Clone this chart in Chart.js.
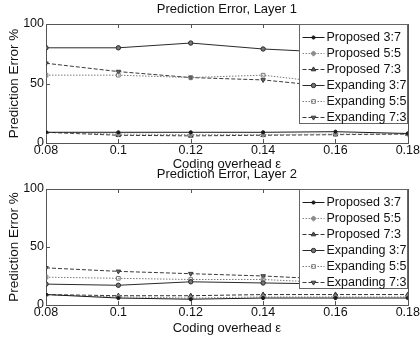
<!DOCTYPE html>
<html>
<head>
<meta charset="utf-8">
<script src="https://cdn.jsdelivr.net/npm/chart.js@4.4.1/dist/chart.umd.min.js"></script>
<style>
    body { margin: 0; background: #fff; }
    #wrap { position: relative; width: 420px; height: 337px; overflow: hidden; background: #fff; }
    canvas { position: absolute; left: 0; }
    #layer1 { top: 0; }
    #layer2 { top: 165px; }
</style>
</head>
<body>
<div id="wrap">
    <canvas id="layer1" width="420" height="172"></canvas>
    <canvas id="layer2" width="420" height="172"></canvas>
</div>
<script>
// coding overhead values on the x axis
var overhead = [0.08, 0.1, 0.12, 0.14, 0.16, 0.18];
var xTicks = [0.08, 0.1, 0.12, 0.14, 0.16, 0.18];
var yTicks = [0, 50, 100];
var seriesNames = ['Proposed 3:7', 'Proposed 5:5', 'Proposed 7:3',
    'Expanding 3:7', 'Expanding 5:5', 'Expanding 7:3'];

// Layer 1 prediction error (%)
var layer1Proposed37 = [9, 9, 9, 9, 9.5, 8];
var layer1Proposed55 = [9, 7.5, 7, 7, 7.5, 7.5];
var layer1Proposed73 = [9, 6.5, 6, 6.5, 7, 7.5];
var layer1Expanding37 = [80, 80, 84, 79, 76, 72];
var layer1Expanding55 = [57, 57, 55, 57, 50, 43];
var layer1Expanding73 = [67, 60, 55, 53, 47, 42];

// Layer 2 prediction error (%)
var layer2Proposed37 = [9, 6, 5, 6, 6, 6];
var layer2Proposed55 = [9, 7, 6, 7, 7, 7];
var layer2Proposed73 = [9, 8, 8, 9, 9, 9];
var layer2Expanding37 = [18, 17, 20, 19, 18, 16];
var layer2Expanding55 = [24, 23, 22, 22, 19, 16];
var layer2Expanding73 = [32, 29, 27, 25, 22, 18];

var FONT = "'Liberation Sans', Arial, sans-serif";

// matlab-ish grey line styles, one per series
var lineStyles = [
    { color: '#1a1a1a', dash: [], point: 'circle', radius: 1.6, fill: '#1a1a1a', rot: 0 },
    { color: '#8a8a8a', dash: [1.5, 1.5], point: 'rectRot', radius: 2.6, fill: '#8a8a8a', rot: 0 },
    { color: '#333333', dash: [4, 2], point: 'triangle', radius: 2.6, fill: '#555555', rot: 0 },
    { color: '#2a2a2a', dash: [], point: 'circle', radius: 2.2, fill: '#777777', rot: 0 },
    { color: '#7a7a7a', dash: [1.5, 1.5], point: 'rect', radius: 2.6, fill: 'rgba(255,255,255,0)', rot: 0 },
    { color: '#3a3a3a', dash: [4, 2], point: 'triangle', radius: 2.6, fill: '#666666', rot: 180 }
];

var boxPlugin = {
    id: 'boxPlugin',
    beforeDatasetsDraw: function (chart) {
        var ctx = chart.ctx, a = chart.chartArea;
        var xs = chart.scales.x, ys = chart.scales.y;
        ctx.save();
        ctx.strokeStyle = '#555';
        ctx.lineWidth = 1;
        ctx.strokeRect(Math.round(a.left) + 0.5, Math.round(a.top) + 0.5,
            Math.round(a.right - a.left), Math.round(a.bottom - a.top));
        ctx.beginPath();
        xTicks.forEach(function (v) {
            var px = Math.round(xs.getPixelForValue(v)) + 0.5;
            ctx.moveTo(px, a.bottom); ctx.lineTo(px, a.bottom - 4);
            ctx.moveTo(px, a.top); ctx.lineTo(px, a.top + 4);
        });
        yTicks.forEach(function (v) {
            var py = Math.round(ys.getPixelForValue(v)) + 0.5;
            ctx.moveTo(a.left, py); ctx.lineTo(a.left + 4, py);
            ctx.moveTo(a.right, py); ctx.lineTo(a.right - 4, py);
        });
        ctx.stroke();
        ctx.restore();
    }
};

function drawMarker(ctx, st, x, y) {
    ctx.fillStyle = st.fill;
    ctx.strokeStyle = st.color;
    ctx.lineWidth = 1;
    ctx.setLineDash([]);
    Chart.helpers.drawPoint(ctx, {
        pointStyle: st.point, rotation: st.rot, radius: st.radius, borderWidth: 1
    }, x, y);
}

var legendBox = {
    id: 'legendBox',
    afterDatasetsDraw: function (chart) {
        var ctx = chart.ctx, a = chart.chartArea;
        var w = 108, h = 99;
        var x0 = Math.round(a.right) - w - 0.5, y0 = Math.round(a.top) + 0.5;
        ctx.save();
        ctx.fillStyle = '#fff';
        ctx.fillRect(x0, y0, w, h);
        ctx.strokeStyle = '#666';
        ctx.lineWidth = 1;
        ctx.strokeRect(x0, y0, w, h);
        ctx.font = '12.5px ' + FONT;
        ctx.textBaseline = 'middle';
        chart.data.datasets.forEach(function (ds, i) {
            var st = lineStyles[i];
            var cy = Math.round(y0 + 12 + i * 16) + 0.5;
            ctx.strokeStyle = st.color;
            ctx.setLineDash(st.dash);
            ctx.lineWidth = 1;
            ctx.beginPath();
            ctx.moveTo(x0 + 3, cy);
            ctx.lineTo(x0 + 25, cy);
            ctx.stroke();
            drawMarker(ctx, st, x0 + 14, cy);
            ctx.fillStyle = '#111';
            ctx.fillText(ds.label, x0 + 27, cy);
        });
        ctx.restore();
    }
};

function makeChart(canvasId, title, series, xTitlePad, xHeight) {
    var datasets = series.map(function (values, i) {
        var st = lineStyles[i];
        return {
            label: seriesNames[i],
            data: overhead.map(function (x, k) { return { x: x, y: values[k] }; }),
            borderColor: st.color,
            borderWidth: 1,
            borderDash: st.dash,
            pointStyle: st.point,
            pointRadius: st.radius,
            pointRotation: st.rot,
            pointBackgroundColor: st.fill,
            pointBorderColor: st.color,
            pointBorderWidth: 1,
            tension: 0
        };
    });

    return new Chart(document.getElementById(canvasId), {
        type: 'line',
        data: { datasets: datasets },
        options: {
            responsive: false,
            animation: false,
            devicePixelRatio: 1,
            layout: { padding: { left: 0, right: 11, top: 0, bottom: 0 } },
            plugins: {
                legend: { display: false },
                tooltip: { enabled: false },
                title: {
                    display: true,
                    fullSize: false,
                    text: title,
                    color: '#111',
                    font: { family: FONT, size: 13, weight: 'normal', lineHeight: 1.2 },
                    padding: { top: 2, bottom: 6.4 }
                }
            },
            scales: {
                x: {
                    type: 'linear',
                    min: 0.08,
                    max: 0.18,
                    afterBuildTicks: function (s) {
                        s.ticks = xTicks.map(function (v) { return { value: v }; });
                    },
                    afterFit: function (s) { s.height = xHeight; },
                    grid: { display: false, drawTicks: false },
                    border: { display: false },
                    ticks: {
                        padding: 0,
                        maxRotation: 0,
                        autoSkip: false,
                        color: '#111',
                        font: { family: FONT, size: 12.5, lineHeight: 1.2 },
                        callback: function (v) { return String(v); }
                    },
                    title: {
                        display: true,
                        text: 'Coding overhead \u03b5',
                        color: '#111',
                        font: { family: FONT, size: 13, lineHeight: 1.2 },
                        padding: { top: 0, bottom: xTitlePad }
                    }
                },
                y: {
                    min: 0,
                    max: 100,
                    afterBuildTicks: function (s) {
                        s.ticks = yTicks.map(function (v) { return { value: v }; });
                    },
                    afterFit: function (s) { s.width = 46; },
                    grid: { display: false, drawTicks: false },
                    border: { display: false },
                    ticks: {
                        padding: 2,
                        color: '#111',
                        font: { family: FONT, size: 12.5, lineHeight: 1.2 }
                    },
                    title: {
                        display: true,
                        text: 'Prediction Error %',
                        color: '#111',
                        font: { family: FONT, size: 13.5, lineHeight: 1.2 },
                        padding: { top: 6.5, bottom: 0 }
                    }
                }
            }
        },
        plugins: [boxPlugin, legendBox]
    });
}

makeChart('layer1', 'Prediction Error, Layer 1',
    [layer1Proposed37, layer1Proposed55, layer1Proposed73,
        layer1Expanding37, layer1Expanding55, layer1Expanding73], 0.2, 29);

makeChart('layer2', 'Prediction Error, Layer 2',
    [layer2Proposed37, layer2Proposed55, layer2Proposed73,
        layer2Expanding37, layer2Expanding55, layer2Expanding73], 1.2, 32);
</script>
</body>
</html>
